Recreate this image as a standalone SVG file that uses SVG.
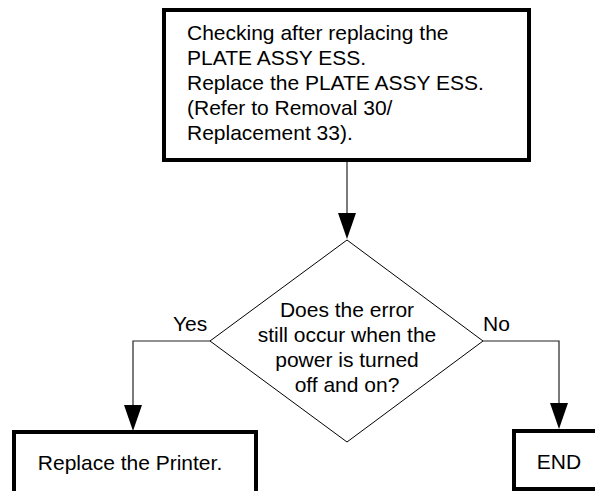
<svg xmlns="http://www.w3.org/2000/svg" width="595" height="491" viewBox="0 0 595 491">
<style>
.box{fill:#fff;stroke:#000;stroke-width:4}
.dia{fill:#fff;stroke:#000;stroke-width:1}
.t{font-family:"Liberation Sans",Arial,sans-serif;font-size:21px;fill:#000}
.c{text-anchor:middle}
.ln{fill:none;stroke:#222;stroke-width:1.2}
.ah{fill:#000}
</style>
<rect width="595" height="491" fill="#fff"/>
<g id="connectors">
<path class="ln" d="M347,162 V215"/>
<path class="ln" d="M210,341 H133 V407"/>
<path class="ln" d="M483,341 H559 V405"/>
<path class="ah" d="M338,213 L356,213 L347,239 Z"/>
<path class="ah" d="M124,405 L142,405 L133,431 Z"/>
<path class="ah" d="M550,403 L568,403 L559,429 Z"/>
</g>
<g id="n1">
<rect class="box" x="164" y="10" width="365" height="150"/>
<text class="t" x="187" y="40">Checking after replacing the</text>
<text class="t" x="187" y="65">PLATE ASSY ESS.</text>
<text class="t" x="187" y="90">Replace the PLATE ASSY ESS.</text>
<text class="t" x="187" y="115">(Refer to Removal 30/</text>
<text class="t" x="187" y="140">Replacement 33).</text>
</g>
<g id="n2">
<polygon class="dia" points="347,240 483,341 347,442 210,341"/>
<text class="t c" x="347" y="317">Does the error</text>
<text class="t c" x="347" y="342">still occur when the</text>
<text class="t c" x="347" y="367">power is turned</text>
<text class="t c" x="347" y="392">off and on?</text>
</g>
<g id="labels">
<text class="t" x="173" y="331">Yes</text>
<text class="t" x="483" y="331">No</text>
</g>
<g id="n3">
<rect class="box" x="14" y="432" width="242" height="80"/>
<text class="t c" x="130" y="470">Replace the Printer.</text>
</g>
<g id="n4">
<rect class="box" x="514" y="431" width="100" height="58"/>
<text class="t c" x="559" y="469">END</text>
</g>
</svg>
